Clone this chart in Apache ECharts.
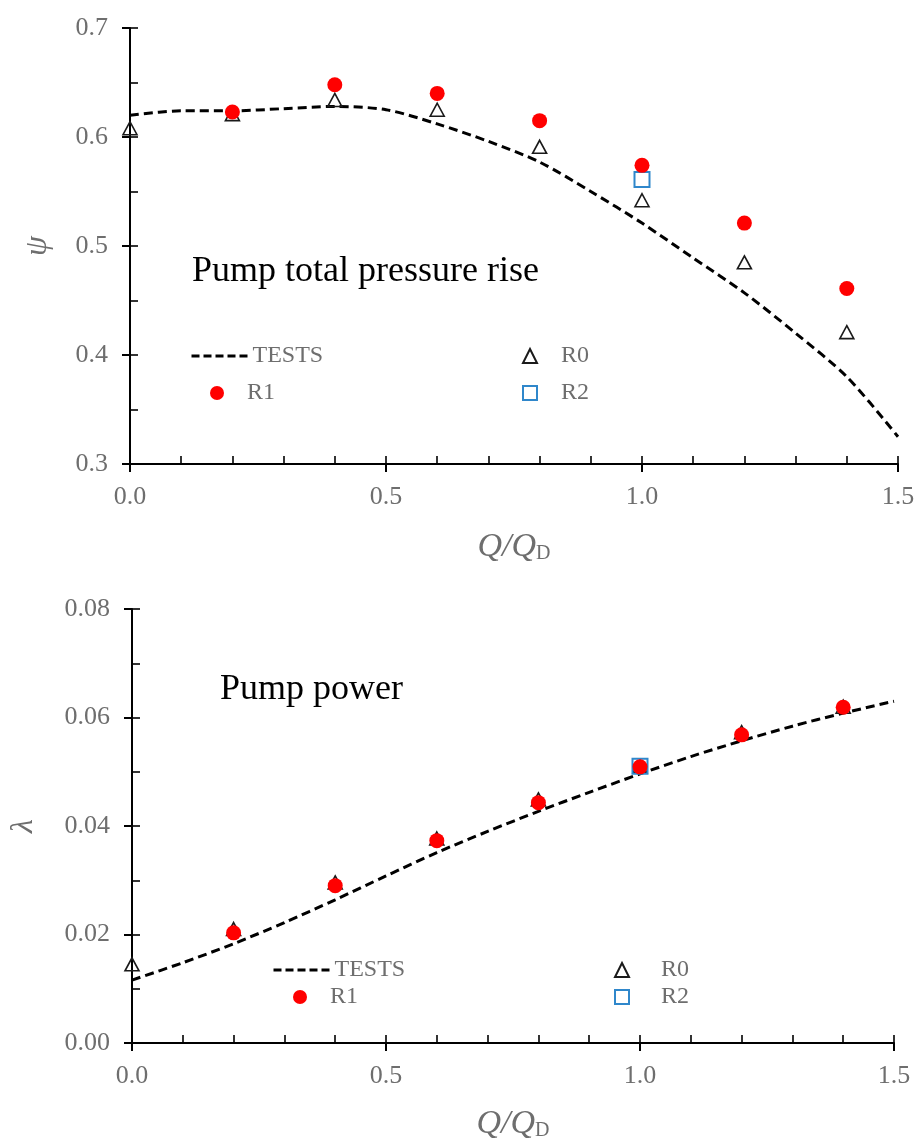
<!DOCTYPE html>
<html>
<head>
    <meta charset="UTF-8"/>
    <title>pump curves</title>
    <script src="https://cdn.jsdelivr.net/npm/echarts@6/dist/echarts.min.js"></script>
    <style>
        html, body { margin: 0; padding: 0; background: #fff; }
        #main { width: 922px; height: 1142px; }
    </style>
</head>
<body>
<div id="main"></div>
<script>
    // 试验曲线 (TESTS) 的 Q/QD
    var testQ = [0, 0.1, 0.2, 0.3, 0.4, 0.5, 0.6, 0.7, 0.8, 0.9, 1.0, 1.1, 1.2, 1.3, 1.4, 1.5];
    var testPsi = [0.620, 0.624, 0.624, 0.626, 0.628, 0.625, 0.612, 0.596, 0.577, 0.550, 0.521, 0.489, 0.457, 0.420, 0.380, 0.325];
    var testLambda = [0.0116, 0.0148, 0.0183, 0.0222, 0.0264, 0.0308, 0.0351, 0.0390, 0.0427, 0.0462, 0.0496, 0.0528, 0.0557, 0.0584, 0.0608, 0.0630];

    // 计算点
    var calcQ = [0, 0.2, 0.4, 0.6, 0.8, 1.0, 1.2, 1.4];
    var r0Psi = [0.608, 0.621, 0.634, 0.625, 0.591, 0.542, 0.485, 0.421];
    var r1Q = [0.2, 0.4, 0.6, 0.8, 1.0, 1.2, 1.4];
    var r1Psi = [0.623, 0.648, 0.640, 0.615, 0.574, 0.521, 0.461];
    var r2Q = [1.0];
    var r2Psi = [0.561];

    var r0Lambda = [0.0145, 0.0210, 0.0296, 0.0377, 0.0449, 0.0510, 0.0573, 0.0620];
    var r1Lambda = [0.0203, 0.0290, 0.0373, 0.0443, 0.0509, 0.0568, 0.0619];
    var r2Lambda = [0.0510];

    var xTicks = ['0.0', '0.5', '1.0', '1.5'];

    var serif = '"Liberation Serif", "DejaVu Serif", serif';
    var gray = '#6e6e6e';

    function pairs(xs, ys) {
        var out = [];
        for (var i = 0; i < xs.length; i++) {
            out.push([xs[i], ys[i]]);
        }
        return out;
    }

    var qRich = {
        i: { fontFamily: serif, fontStyle: 'italic', fontSize: 34, color: gray, lineHeight: 40, verticalAlign: 'bottom' },
        s: { fontFamily: serif, fontSize: 20, color: gray, lineHeight: 22, verticalAlign: 'bottom' }
    };

    function mainX(gridIndex, nameGap) {
        return {
            type: 'value', gridIndex: gridIndex, position: 'bottom',
            min: 0, max: 1.5, interval: 0.5,
            name: '{i|Q/Q}{s|D}', nameLocation: 'middle', nameGap: nameGap,
            nameTextStyle: { rich: qRich },
            axisLine: { show: true, lineStyle: { color: '#000', width: 2 } },
            axisTick: { show: true, inside: false, length: 8, lineStyle: { color: '#000', width: 2 } },
            axisLabel: {
                margin: 20, color: gray, fontFamily: serif, fontSize: 26,
                formatter: function (v) { return xTicks[Math.round(v / 0.5)]; }
            },
            splitLine: { show: false }
        };
    }
    function minorX(gridIndex) {
        return {
            type: 'value', gridIndex: gridIndex, position: 'bottom',
            min: 0, max: 1.5, interval: 0.1,
            axisLine: { show: false },
            axisTick: { show: true, inside: true, length: 8, lineStyle: { color: '#000', width: 1.6 } },
            axisLabel: { show: false },
            splitLine: { show: false }
        };
    }
    function mainY(gridIndex, min, max, interval, digits, name, nameGap, nameSize) {
        return {
            type: 'value', gridIndex: gridIndex, position: 'left', offset: 0,
            min: min, max: max, interval: interval,
            name: name, nameLocation: 'middle', nameGap: nameGap,
            nameTextStyle: { fontFamily: serif, fontStyle: 'italic', fontSize: nameSize, color: gray },
            axisLine: { show: true, lineStyle: { color: '#000', width: 2 } },
            axisTick: { show: true, inside: false, length: 8, lineStyle: { color: '#000', width: 2 } },
            axisLabel: {
                margin: 22, color: gray, fontFamily: serif, fontSize: 26,
                formatter: function (v) { return v.toFixed(digits); }
            },
            splitLine: { show: false }
        };
    }
    function minorY(gridIndex, min, max, interval) {
        return {
            type: 'value', gridIndex: gridIndex, position: 'left', offset: 0,
            min: min, max: max, interval: interval,
            axisLine: { show: false },
            axisTick: { show: true, inside: true, length: 8, lineStyle: { color: '#000', width: 1.6 } },
            axisLabel: { show: false },
            splitLine: { show: false }
        };
    }

    var dash = { color: '#000', width: 3, type: [9, 5] };
    var triStyle = { color: 'rgba(255,255,255,0)', borderColor: '#1a1a1a', borderWidth: 1.6, opacity: 1 };
    var sqStyle = { color: 'rgba(255,255,255,0)', borderColor: '#2f87cb', borderWidth: 2, opacity: 1 };
    var dotStyle = { color: '#ff0000', opacity: 1 };

    function seriesFor(axisIdx, testY, r0Y, r1Y, r2Y) {
        return [
            {
                name: 'TESTS', type: 'line', xAxisIndex: axisIdx, yAxisIndex: axisIdx,
                data: pairs(testQ, testY), smooth: 0.3, symbol: 'none',
                itemStyle: { color: '#000' },
                lineStyle: dash, z: 2, silent: true
            },
            {
                name: 'R0', type: 'scatter', xAxisIndex: axisIdx, yAxisIndex: axisIdx,
                data: pairs(calcQ, r0Y), symbol: 'triangle', symbolSize: [14, 13],
                itemStyle: triStyle, z: 3
            },
            {
                name: 'R2', type: 'scatter', xAxisIndex: axisIdx, yAxisIndex: axisIdx,
                data: pairs(r2Q, r2Y), symbol: 'rect', symbolSize: 15,
                itemStyle: sqStyle, z: 4
            },
            {
                name: 'R1', type: 'scatter', xAxisIndex: axisIdx, yAxisIndex: axisIdx,
                data: pairs(r1Q, r1Y), symbol: 'circle', symbolSize: 15,
                itemStyle: dotStyle, z: 5
            }
        ];
    }

    // 图例:每项单独放,便于摆位置
    function legendItem(name, left, top, w, h, padLeft) {
        var lg = {
            data: [name], left: left, top: top, orient: 'horizontal',
            padding: 0, itemWidth: w, itemHeight: h, itemGap: 0,
            selectedMode: false,
            textStyle: { fontFamily: serif, fontSize: 24, color: gray, padding: [0, 0, 0, padLeft] }
        };
        if (name === 'TESTS') {
            // 只要虚线,不要中间的点
            lg.itemStyle = { color: 'rgba(0,0,0,0)', borderWidth: 0 };
            lg.lineStyle = { color: '#000', width: 3, type: [8, 4] };
        }
        return lg;
    }

    var chart = echarts.init(document.getElementById('main'));
    var option = {
        animation: false,
        backgroundColor: '#fff',
        grid: [
            { left: 130, top: 28, width: 768, height: 436 },
            { left: 129, top: 609, width: 765, height: 442 }
        ],
        xAxis: [mainX(0, 60), mainX(1, 58), minorX(0), minorX(1)],
        yAxis: [
            mainY(0, 0.3, 0.7, 0.1, 1, 'ψ', 76, 32),
            mainY(1, 0, 0.08, 0.02, 2, 'λ', 92, 32),
            minorY(0, 0.3, 0.7, 0.05),
            minorY(1, 0, 0.08, 0.01)
        ],
        legend: [
            legendItem('TESTS', 190, 344, 56, 14, 0),
            legendItem('R1', 210, 381, 14, 14, 18),
            legendItem('R0', 522, 344, 14, 14, 19),
            legendItem('R2', 522, 381, 14, 14, 19),
            legendItem('TESTS', 272, 958, 56, 14, 0),
            legendItem('R1', 293, 985, 14, 14, 18),
            legendItem('R0', 614, 958, 14, 14, 27),
            legendItem('R2', 614, 985, 14, 14, 27)
        ],
        graphic: [
            { type: 'text', left: 192, top: 254, style: { text: 'Pump total pressure rise', font: '36px ' + serif, fill: '#000' } },
            { type: 'text', left: 220, top: 672, style: { text: 'Pump power', font: '36px ' + serif, fill: '#000' } }
        ],
        series: seriesFor(0, testPsi, r0Psi, r1Psi, r2Psi).concat(seriesFor(1, testLambda, r0Lambda, r1Lambda, r2Lambda))
    };
    chart.setOption(option);
</script>
</body>
</html>
